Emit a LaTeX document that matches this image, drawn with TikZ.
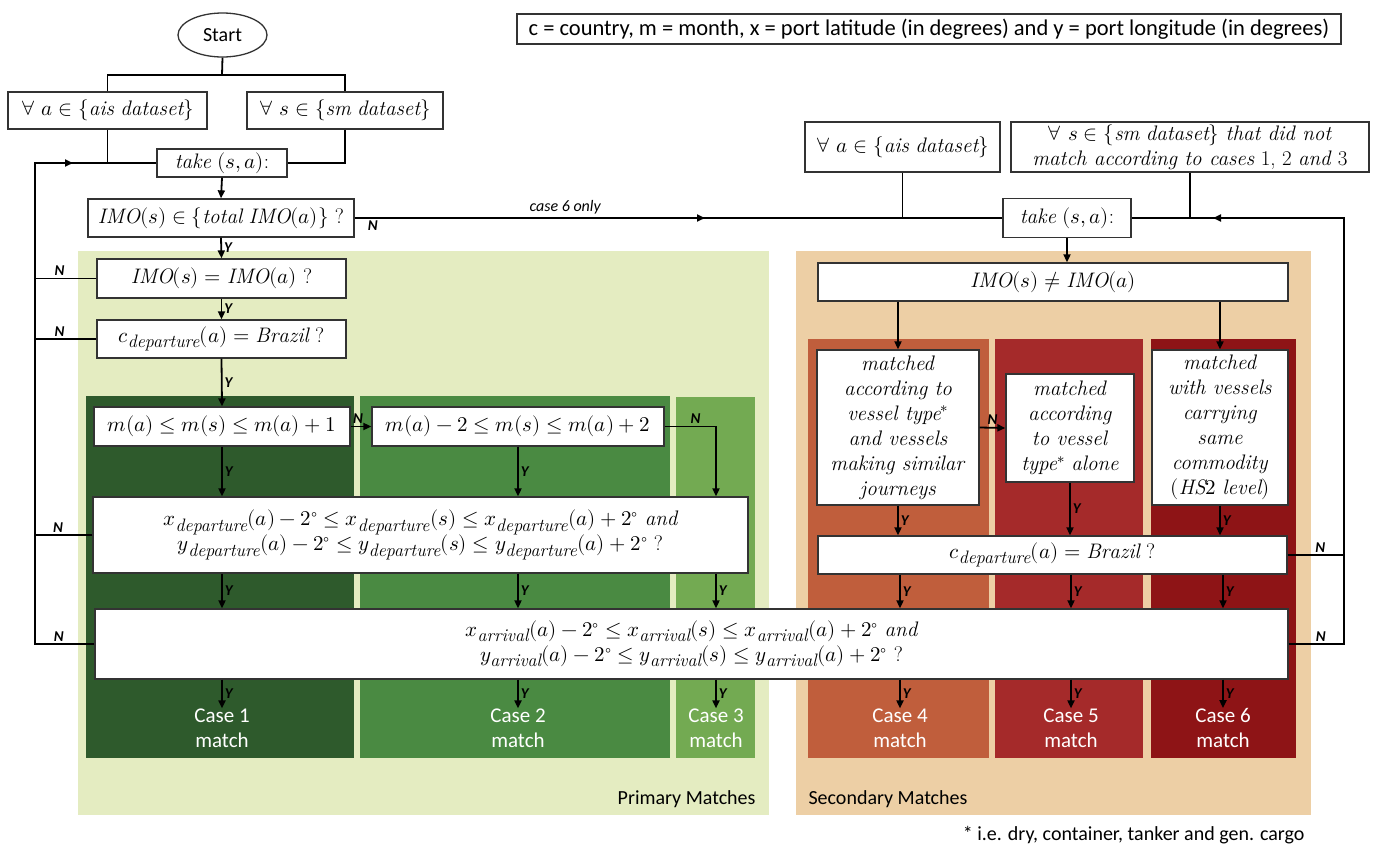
\documentclass[tikz,border=0pt]{standalone}
\usepackage{fontspec}
\usepackage{unicode-math}
\newfontfamily\calibri{Carlito}
\usetikzlibrary{arrows.meta,positioning,shapes.geometric}
\newcommand\subtxt[1]{_{\mbox{\fontsize{18}{18}\selectfont\itshape #1}}}
\definecolor{primbg}{HTML}{E4ECC1}
\definecolor{secbg}{HTML}{EDCFA5}
\definecolor{colone}{HTML}{2E5A2C}
\definecolor{coltwo}{HTML}{4A8A42}
\definecolor{colthree}{HTML}{73AA52}
\definecolor{colfour}{HTML}{C05E3C}
\definecolor{colfive}{HTML}{A52A2A}
\definecolor{colsix}{HTML}{8E1416}
\begin{document}
\begin{tikzpicture}[x=1pt,y=-1pt,
  box/.style={draw=black!80, line width=1.3pt, fill=white, inner sep=0pt, align=center, font=\fontsize{21}{25}\selectfont},
  sansbox/.style={box, font=\calibri\fontsize{20}{24}\selectfont},
  lab/.style={font=\calibri\bfseries\itshape\fontsize{15}{15}\selectfont, inner sep=2pt},
  casetxt/.style={text=white, align=center, inner sep=0pt, font=\calibri\fontsize{21}{25}\selectfont},
  flow/.style={line width=1.8pt},
  >={Triangle[length=8pt,width=7pt]}]
\useasboundingbox (0,0) rectangle (1375,847);

% coloured areas
\fill[primbg] (78,251) rectangle (769,815);
\fill[secbg] (796,251) rectangle (1311,815);
\fill[colone] (86,396) rectangle (354,758);
\fill[coltwo] (360,396) rectangle (670,758);
\fill[colthree] (676,397) rectangle (755,758);
\fill[colfour] (808,339) rectangle (989,758);
\fill[colfive] (995,339) rectangle (1143,758);
\fill[colsix] (1151,339) rectangle (1296,758);
\node[anchor=east, font=\calibri\fontsize{20}{24}\selectfont] (prim) at (759,799) {Primary Matches};
\node[anchor=west, font=\calibri\fontsize{20}{24}\selectfont] (sec) at (805,799) {Secondary Matches};
\node[anchor=east, font=\calibri\fontsize{20}{24}\selectfont] (foot) at (1308,835) {* i.e. dry, container, tanker and gen. cargo};

% primary part
\node[sansbox, ellipse, minimum width=89pt, minimum height=44pt] (start) at (222.5,35) {Start};
\node[sansbox, minimum width=824pt, minimum height=30pt, font=\calibri\fontsize{22.5}{24}\selectfont] (legend) at (929,29) {c = country, m = month, x = port latitude (in degrees) and y = port longitude (in degrees)};
\node[box, minimum width=199pt, minimum height=37pt] (ais1) at (107.5,110.5) {$\forall\ a \in \{\mathit{ais\ dataset}\}$};
\node[box, minimum width=196pt, minimum height=37pt] (sm1) at (345,110.5) {$\forall\ s \in \{\mathit{sm\ dataset}\}$};
\node[box, minimum width=130pt, minimum height=28pt] (take1) at (222,163) {$\mathit{take}\ (s, a)$:};
\node[box, minimum width=266pt, minimum height=38pt] (imo1) at (221,218) {$\mathit{IMO}(s) \in \{\mathit{total\ IMO}(a)\}$ ?};
\node[box, minimum width=249pt, minimum height=39pt] (imo2) at (221.5,278.5) {$\mathit{IMO}(s) = \mathit{IMO}(a)$ ?};
\node[box, minimum width=249pt, minimum height=38pt] (cdep1) at (221.5,339) {$c\subtxt{departure}(a) = \mathit{Brazil}$ ?};
\node[box, minimum width=256pt, minimum height=39pt] (m1) at (222,426.5) {$m(a) \le m(s) \le m(a) + 1$};
\node[box, minimum width=292pt, minimum height=39pt] (m2) at (518,426.5) {$m(a) - 2 \le m(s) \le m(a) + 2$};
\node[box, minimum width=655pt, minimum height=76pt] (dep) at (420.5,535) {$x\subtxt{departure}(a) - 2^{\circ} \le x\subtxt{departure}(s) \le x\subtxt{departure}(a) + 2^{\circ}\ \mathit{and}$\\ $y\subtxt{departure}(a) - 2^{\circ} \le y\subtxt{departure}(s) \le y\subtxt{departure}(a) + 2^{\circ}$ ?};
\node[box, minimum width=1193pt, minimum height=70pt] (arr) at (691.5,644) {$x\subtxt{arrival}(a) - 2^{\circ} \le x\subtxt{arrival}(s) \le x\subtxt{arrival}(a) + 2^{\circ}\ \mathit{and}$\\ $y\subtxt{arrival}(a) - 2^{\circ} \le y\subtxt{arrival}(s) \le y\subtxt{arrival}(a) + 2^{\circ}$ ?};
\node[casetxt] (case1) at (222,728) {Case 1\\match};
\node[casetxt] (case2) at (518,728) {Case 2\\match};
\node[casetxt] (case3) at (716,728) {Case 3\\match};

% secondary part
\node[box, minimum width=195pt, minimum height=50pt] (ais2) at (902.5,147) {$\forall\ a \in \{\mathit{ais\ dataset}\}$};
\node[box, minimum width=358pt, minimum height=50pt] (sm2) at (1190,147) {$\forall\ s \in \{\mathit{sm\ dataset}\}$ \textit{that did not}\\ \textit{match according to cases} 1, 2 \textit{and} 3};
\node[box, minimum width=128pt, minimum height=39pt] (take2) at (1067,218) {$\mathit{take}\ (s, a)$:};
\node[box, minimum width=470pt, minimum height=38pt] (imo3) at (1053,282) {$\mathit{IMO}(s) \neq \mathit{IMO}(a)$};
\node[box, minimum width=162pt, minimum height=155pt] (vt1) at (898,427.5) {\textit{matched}\\ \textit{according to}\\ \textit{vessel type}$^{*}$\\ \textit{and vessels}\\ \textit{making similar}\\ \textit{journeys}};
\node[box, minimum width=128pt, minimum height=108pt] (vt2) at (1070,428) {\textit{matched}\\ \textit{according}\\ \textit{to vessel}\\ \textit{type}$^{*}$ \textit{alone}};
\node[box, minimum width=136pt, minimum height=155pt] (hs2) at (1220,427.5) {\textit{matched}\\ \textit{with vessels}\\ \textit{carrying}\\ \textit{same}\\ \textit{commodity}\\ $(\mathit{HS}2\ \mathit{level})$};
\node[box, minimum width=469pt, minimum height=38pt] (cdep2) at (1052.5,555) {$c\subtxt{departure}(a) = \mathit{Brazil}$ ?};
\node[casetxt] (case4) at (900,728) {Case 4\\match};
\node[casetxt] (case5) at (1071,728) {Case 5\\match};
\node[casetxt] (case6) at (1223,728) {Case 6\\match};

\coordinate (split) at (222,75);
\coordinate (loopL) at (35,163);
\coordinate (loopR) at (1344,218);

\begin{scope}[flow]
% start and inputs
\draw (start.south) -- (split);
\draw (ais1.north) |- (split) -| (sm1.north);
\draw (ais1.south) -- (ais1.south |- take1.west);
\draw (sm1.south) |- (take1.east);
\draw[->] (take1.south) -- (imo1.north);
% primary checks
\draw[->] (imo1.south) -- node[lab, right] {Y} (imo2.north);
\draw[->] (imo2.south) -- node[lab, right] {Y} (cdep1.north);
\draw[->] (cdep1.south) -- node[lab, right] {Y} (m1.north);
\draw[->] (m1.east) -- node[lab, above, pos=0.36] {N} (m2.west);
\draw[->] (m2.east) -| node[lab, above, pos=0.3] {N} (dep.north -| case3);
\draw[->] (m1.south) -- node[lab, right] {Y} (m1.south |- dep.north);
\draw[->] (m2.south) -- node[lab, right] {Y} (m2.south |- dep.north);
\foreach \c in {case1,case2,case3}{
  \draw[->] (dep.south -| \c) -- node[lab, right] {Y} (arr.north -| \c);
  \draw[->] (arr.south -| \c) -- node[lab, right] {Y} (\c.north);
}
% left loop
\draw (imo2.west) -- node[lab, above, pos=0.6] {N} (imo2.west -| loopL);
\draw (cdep1.west) -- node[lab, above, pos=0.6] {N} (cdep1.west -| loopL);
\draw (dep.west) -- node[lab, above, pos=0.6] {N} (dep.west -| loopL);
\draw (arr.west) -- node[lab, above, pos=0.6] {N} (arr.west -| loopL) -- (loopL) -- (take1.west);
\draw[->] (loopL) -- ++(38,0);
% case 6 branch
\draw (imo1.east) -- node[lab, below, pos=0.028] {N}
  node[above, pos=0.325, inner sep=3pt, font=\calibri\itshape\fontsize{16}{16}\selectfont] {case 6 only} (take2.west);
\draw[->] (imo1.east) -- (705,218);
% secondary checks
\draw (ais2.south) -- (ais2.south |- take2.west);
\draw (sm2.south) -- (sm2.south |- take2.east);
\draw[->] (take2.south) -- (take2.south |- imo3.north);
\draw[->] (vt1.north |- imo3.south) -- (vt1.north);
\draw[->] (hs2.north |- imo3.south) -- (hs2.north);
\draw[->] (vt1.east) -- node[lab, above] {N} (vt2.west);
\draw[->] (vt1.south) -- node[lab, right] {Y} (vt1.south |- cdep2.north);
\draw[->] (vt2.south) -- node[lab, right] {Y} (vt2.south |- cdep2.north);
\draw[->] (hs2.south) -- node[lab, right] {Y} (hs2.south |- cdep2.north);
\foreach \c in {case4,case5,case6}{
  \draw[->] (cdep2.south -| \c) -- node[lab, right] {Y} (arr.north -| \c);
  \draw[->] (arr.south -| \c) -- node[lab, right] {Y} (\c.north);
}
% right loop
\draw (cdep2.east) -- node[lab, above, pos=0.58] {N} (cdep2.east -| loopR);
\draw (arr.east) -- node[lab, above, pos=0.58] {N} (arr.east -| loopR) -- (loopR) -- (take2.east);
\draw[->] (loopR) -- ++(-131,0);
\end{scope}
\end{tikzpicture}
\end{document}
